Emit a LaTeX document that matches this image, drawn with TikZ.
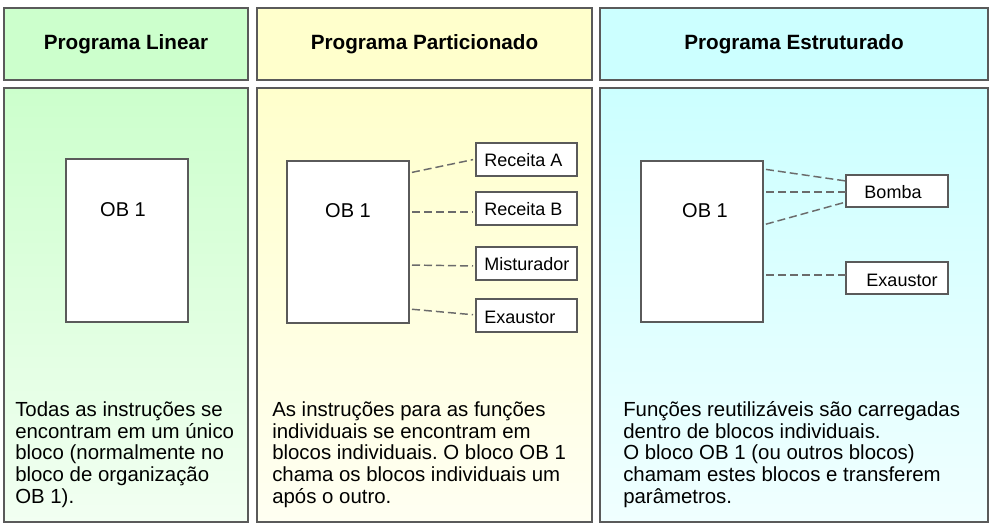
\documentclass[tikz,border=0pt]{standalone}
\usepackage{fontspec}
\setmainfont{Liberation Sans}
\frenchspacing
\definecolor{bordc}{HTML}{5A5A5A}
\definecolor{gr}{HTML}{CCFFCC}
\definecolor{grb}{HTML}{F2FFF2}
\definecolor{ye}{HTML}{FFFFCC}
\definecolor{yeb}{HTML}{FFFFF2}
\definecolor{cy}{HTML}{CCFFFF}
\definecolor{cyb}{HTML}{F0FFFF}
\begin{document}
\begin{tikzpicture}[x=0.75pt,y=-0.75pt,
  sz/.style 2 args={minimum width=#1*0.75pt, minimum height=#2*0.75pt, inner sep=0pt, outer sep=0pt},
  panel/.style={draw=bordc, line width=1.5pt, rectangle},
  head/.style={panel, font=\fontsize{15.5}{18}\selectfont\bfseries, text=black},
  obbox/.style={draw=bordc, line width=1.1pt, fill=white, rectangle, sz={122}{163}},
  oblab/.style={font=\fontsize{15}{18}\selectfont, text=black},
  sub/.style={draw=bordc, line width=1.1pt, fill=white, rectangle},
  sublab/.style={font=\fontsize{13.5}{16}\selectfont, text=black, inner sep=0pt},
  link/.style={draw=bordc!90, line width=1.1pt, dash pattern=on 6pt off 3pt},
  body/.style={font=\fontsize{15.3}{16.3}\selectfont\frenchspacing, text=black, align=left, inner sep=0pt, anchor=north west}]
\useasboundingbox (0,0) rectangle (993,527);
\fill[white] (0,0) rectangle (993,527);
% headers
\node[head, fill=gr, sz={244}{72}] (hL) at (126,44) {Programa Linear};
\node[head, fill=ye, sz={335}{72}] (hP) at (424.5,44) {Programa Particionado};
\node[head, fill=cy, sz={388}{72}] (hS) at (794,44) {Programa Estruturado};
% bodies
\node[panel, top color=gr, bottom color=grb, sz={244}{434}] (bL) at (126,305) {};
\node[panel, top color=ye, bottom color=yeb, sz={335}{434}] (bP) at (424.5,305) {};
\node[panel, top color=cy, bottom color=cyb, sz={388}{434}] (bS) at (794,305) {};
% OB1 boxes
\node[obbox] (oL) at (127,240.5) {};
\node[oblab] (tL) at (123,210) {OB 1};
\node[obbox, sz={122}{162}] (oP) at (348,242) {};
\node[oblab] (tP) at (348,211) {OB 1};
\node[obbox, sz={122}{161}] (oS) at (702,241.5) {};
\node[oblab] (tS) at (705,211) {OB 1};
% partitioned sub-blocks
\node[sub, sz={101}{33}] (rA) at (526.5,159.5) {};
\node[sub, sz={101}{33}] (rB) at (526.5,208.5) {};
\node[sub, sz={101}{33}] (mi) at (526.5,263.5) {};
\node[sub, sz={101}{33}] (ex) at (526.5,315.5) {};
\node[sublab, anchor=west] (lrA) at (484,160) {Receita A};
\node[sublab, anchor=west] (lrB) at (484,209) {Receita B};
\node[sublab, anchor=west] (lmi) at (484,264) {Misturador};
\node[sublab, anchor=west] (lex) at (484,317) {Exaustor};
% structured sub-blocks
\node[sub, sz={102}{32}] (bo) at (897,191) {};
\node[sub, sz={102}{32}] (ex2) at (897,278) {};
\node[sublab] (lbo) at (893,192) {Bomba};
\node[sublab] (lex2) at (902,280) {Exaustor};
% links
\draw[link, shorten <=2.25pt, shorten >=2.25pt] (oP.east |- 0,173) -- (rA.west |- 0,159);
\draw[link, shorten <=2.25pt, shorten >=2.25pt] (oP.east |- 0,212) -- (rB.west |- 0,212);
\draw[link, shorten <=2.25pt, shorten >=2.25pt] (oP.east |- 0,265) -- (mi.west |- 0,266);
\draw[link, shorten <=2.25pt, shorten >=2.25pt] (oP.east |- 0,309) -- (ex.west |- 0,315);
\draw[link, shorten <=2.25pt] (oS.east |- 0,169) -- (bo.west |- 0,181);
\draw[link, shorten <=2.25pt] (oS.east |- 0,192) -- (bo.west |- 0,192);
\draw[link, shorten <=2.25pt] (oS.east |- 0,225) -- (bo.west |- 0,202);
\draw[link, shorten <=2.25pt] (oS.east |- 0,275) -- (ex2.west |- 0,275);
% descriptions
\node[body] (dL) at (15,400.8) {\strut Todas as instruções se\\encontram em um único\\bloco (normalmente no\\bloco de organização\\OB 1).};
\node[body] (dP) at (272,400.8) {\strut As instruções para as funções\\individuais se encontram em\\blocos individuais. O bloco OB 1\\chama os blocos individuais um\\após o outro.};
\node[body] (dS) at (623,400.8) {\strut Funções reutilizáveis são carregadas\\dentro de blocos individuais.\\O bloco OB 1 (ou outros blocos)\\chamam estes blocos e transferem\\parâmetros.};
\end{tikzpicture}
\end{document}
